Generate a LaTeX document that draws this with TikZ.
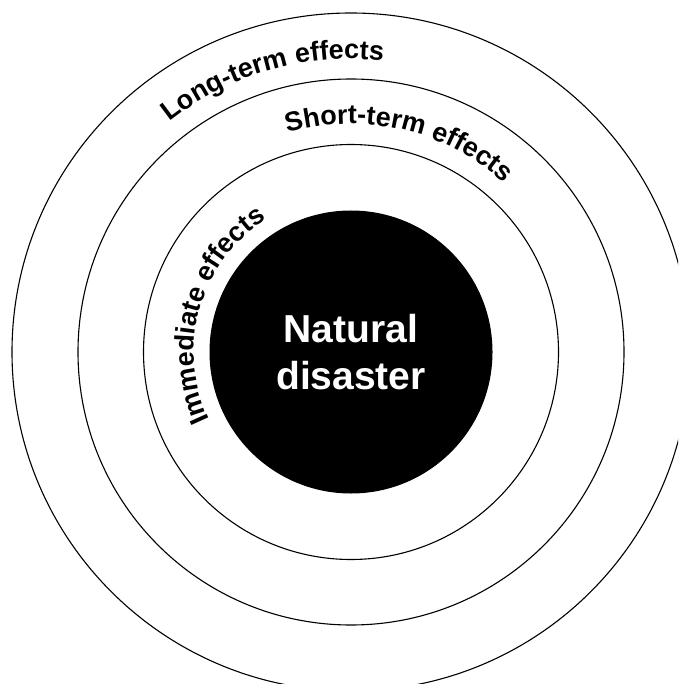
\documentclass[tikz,border=0pt]{standalone}
\usepackage{fontspec}
\setmainfont{Liberation Sans}
\usetikzlibrary{decorations.text}
\newcommand\lblfont{\bfseries\fontsize{27}{27}\selectfont}
\begin{document}
\begin{tikzpicture}[x=1pt,y=1pt,
  ring/.style={circle, draw=black, line width=1.1pt, inner sep=0pt, fill=none},
  arclabel/.style={decorate, decoration={text along path, text align=center, text={|\lblfont|#1}}}]
\useasboundingbox (0,0) rectangle (678,-684);
\clip (0,0) rectangle (678,-684);
\coordinate (ctr) at (351,-352);
\node[ring, minimum size=678pt] (outer) at (ctr) {};
\node[ring, minimum size=546pt] (second) at (ctr) {};
\node[ring, minimum size=415pt] (third) at (ctr) {};
\node[circle, fill=black, minimum size=283pt, inner sep=0pt, text=white,
      font=\bfseries\fontsize{39}{47}\selectfont, align=center] (core) at (ctr) {Natural\\disaster};
\path[arclabel={Long-term effects}] (ctr) ++(166:293pt) arc[start angle=166, end angle=46, radius=293pt];
\path[arclabel={Short-term effects}] (ctr) ++(147:228pt) arc[start angle=147, end angle=7, radius=228pt];
\path[arclabel={Immediate effects}] (ctr) ++(244:157pt) arc[start angle=244, end angle=84, radius=157pt];
\end{tikzpicture}
\end{document}
